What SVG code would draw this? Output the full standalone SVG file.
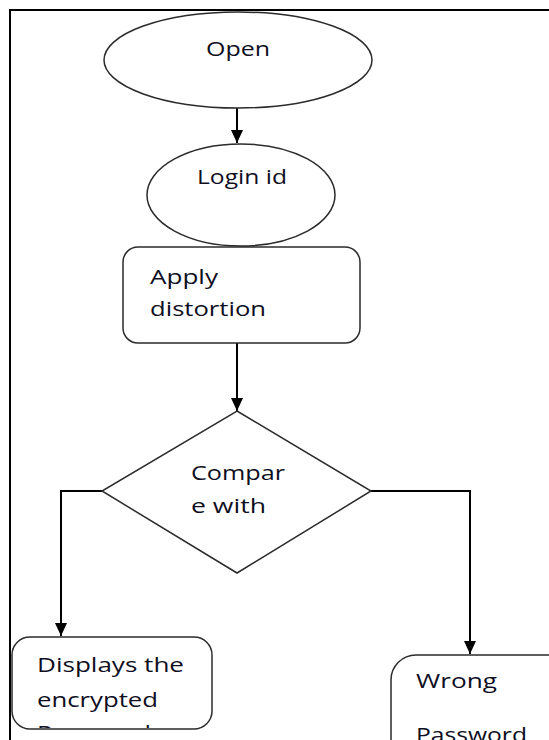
<svg xmlns="http://www.w3.org/2000/svg" width="549" height="740" viewBox="0 0 549 740">
  <style>
    .shape { fill: #ffffff; stroke: #2b2b2b; stroke-width: 1.5; }
    .conn { fill: none; stroke: #000000; stroke-width: 2; }
    .lbl { font-family: "Open Sans", "Liberation Sans", sans-serif; font-size: 20px; fill: #0e0e22; }
  </style>
  <defs>
    <marker id="arr" markerUnits="userSpaceOnUse" markerWidth="14" markerHeight="12" refX="13" refY="6" orient="auto" viewBox="0 0 14 12">
      <path d="M0,0 L13,6 L0,12 Z" fill="#000000"/>
    </marker>
    <clipPath id="clipLeft">
      <rect x="13" y="638" width="198" height="90" rx="17"/>
    </clipPath>
  </defs>

  <rect id="frame" x="10" y="10" width="600" height="800" fill="#ffffff" stroke="#000000" stroke-width="2"/>

  <g id="connectors">
    <line class="conn" x1="237" y1="108" x2="237" y2="143" marker-end="url(#arr)"/>
    <line class="conn" x1="237" y1="197" x2="237" y2="246" marker-end="url(#arr)"/>
    <line class="conn" x1="237" y1="343" x2="237" y2="411" marker-end="url(#arr)"/>
    <path class="conn" d="M102,491 H61 V636" marker-end="url(#arr)"/>
    <path class="conn" d="M371,491 H470 V654" marker-end="url(#arr)"/>
  </g>

  <g id="open">
    <ellipse class="shape" cx="238" cy="60" rx="134" ry="48"/>
    <text class="lbl" x="206" y="56" textLength="64" lengthAdjust="spacingAndGlyphs">Open</text>
  </g>

  <g id="login">
    <ellipse class="shape" cx="241" cy="195" rx="94" ry="51"/>
    <text class="lbl" x="197" y="184" textLength="90" lengthAdjust="spacingAndGlyphs">Login id</text>
  </g>

  <g id="apply">
    <rect class="shape" x="123" y="247" width="237" height="96" rx="15"/>
    <text class="lbl" x="150" y="284" textLength="68" lengthAdjust="spacingAndGlyphs">Apply</text>
    <text class="lbl" x="150" y="316" textLength="116" lengthAdjust="spacingAndGlyphs">distortion</text>
  </g>

  <g id="compare">
    <polygon class="shape" points="237,411 371,491 237,573 102,491"/>
    <text class="lbl" x="191" y="480" textLength="94" lengthAdjust="spacingAndGlyphs">Compar</text>
    <text class="lbl" x="191" y="513" textLength="75" lengthAdjust="spacingAndGlyphs">e with</text>
  </g>

  <g id="display">
    <rect class="shape" x="12" y="637" width="200" height="92" rx="18"/>
    <text class="lbl" x="37" y="672" textLength="147" lengthAdjust="spacingAndGlyphs">Displays the</text>
    <text class="lbl" x="37" y="707" textLength="121" lengthAdjust="spacingAndGlyphs">encrypted</text>
    <text class="lbl" x="37" y="740" textLength="114" lengthAdjust="spacingAndGlyphs" clip-path="url(#clipLeft)">Password</text>
  </g>

  <g id="wrong">
    <rect class="shape" x="391" y="655" width="200" height="130" rx="25"/>
    <text class="lbl" x="416" y="688" textLength="81" lengthAdjust="spacingAndGlyphs">Wrong</text>
    <text class="lbl" x="416" y="742" textLength="111" lengthAdjust="spacingAndGlyphs">Password</text>
  </g>
</svg>
